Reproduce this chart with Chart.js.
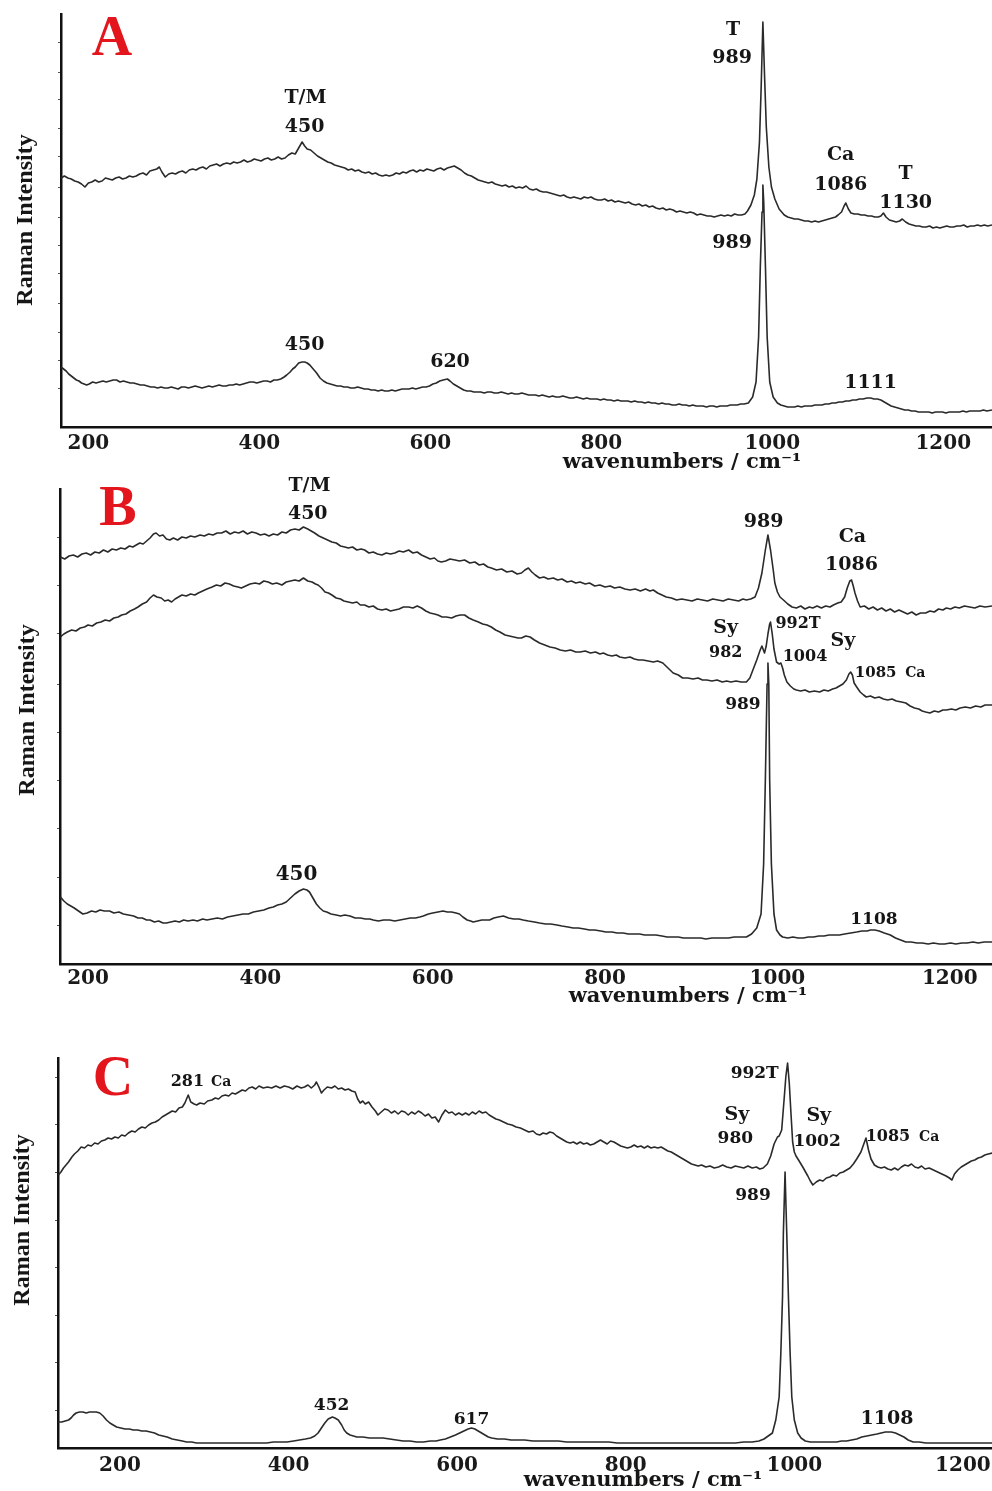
<!DOCTYPE html>
<html>
<head>
<meta charset="utf-8">
<title>Raman spectra</title>
<script src="https://cdn.jsdelivr.net/npm/chart.js@4.4.1/dist/chart.umd.min.js"></script>
<style>
    html, body { margin: 0; padding: 0; background: #fff; }
    #figure { position: relative; width: 992px; height: 1491px; overflow: hidden; background: #fff; }
    #figure canvas { position: absolute; left: 0; }
</style>
</head>
<body>
<div id="figure">
    <canvas id="panelA" width="992" height="476" style="top:0px"></canvas>
    <canvas id="panelB" width="992" height="534" style="top:476px"></canvas>
    <canvas id="panelC" width="992" height="481" style="top:1010px"></canvas>
</div>
<script>
// wavenumber (cm-1), intensity (a.u.) pairs for every spectrum

var wavenumberTicks = [200, 400, 600, 800, 1000, 1200];

var specATop = [[168,249],[172,251],[176,249],[180,248],[184,246],[188,245],[192,243],[196,240],[200,244],[204,245],[208,247],[212,245],[216,246],[220,249],[224,248],[228,247],[232,249],[236,250],[240,248],[244,249],[248,251],[252,250],[256,251],[260,253],[264,254],[268,252],[272,256],[276,257],[280,258],[283,260],[286,255],[290,250],[294,253],[298,254],[302,253],[306,255],[310,256],[314,254],[318,257],[322,258],[326,257],[330,259],[334,260],[338,258],[342,261],[346,262],[350,263],[354,261],[358,263],[362,264],[366,263],[370,265],[374,264],[378,265],[382,267],[386,265],[390,266],[394,268],[398,267],[402,266],[406,268],[410,269],[414,267],[418,268],[422,270],[426,268],[430,269],[434,272],[438,274],[442,273],[446,279],[450,285],[453,281],[456,278],[460,277],[464,274],[468,271],[472,269],[476,267],[480,265],[484,264],[488,262],[492,261],[496,260],[500,259],[504,257],[508,258],[512,256],[516,257],[520,255],[524,254],[528,255],[532,253],[536,254],[540,252],[544,251],[548,252],[552,251],[556,252],[560,254],[564,253],[568,255],[572,254],[576,256],[580,257],[584,255],[588,257],[592,256],[596,258],[600,257],[604,256],[608,258],[612,259],[616,257],[620,259],[624,260],[628,261],[632,259],[636,257],[640,254],[644,252],[648,251],[652,249],[656,247],[660,246],[664,245],[668,244],[672,245],[676,243],[680,242],[684,241],[688,242],[692,240],[696,241],[700,239],[704,240],[708,239],[712,241],[716,238],[720,237],[724,238],[728,236],[732,235],[736,235],[740,234],[744,233],[748,232],[752,231],[756,232],[760,230],[764,229],[768,230],[772,229],[776,228],[780,230],[784,229],[788,230],[792,228],[796,227],[800,227],[804,228],[808,226],[812,227],[816,225],[820,226],[824,225],[828,224],[832,225],[836,223],[840,222],[844,223],[848,221],[852,222],[856,220],[860,221],[864,219],[868,218],[872,219],[876,217],[880,218],[884,217],[888,215],[892,216],[896,215],[900,214],[904,215],[908,214],[912,212],[916,213],[920,212],[924,211],[928,211],[932,210],[936,211],[940,212],[944,211],[948,212],[952,211],[956,213],[960,212],[964,212],[968,213],[971,216],[975,222],[979,232],[982,248],[985,285],[987,340],[989,405],[991,350],[993,300],[996,260],[999,240],[1003,228],[1008,218],[1014,212],[1018,210],[1022,209],[1026,208],[1030,208],[1034,207],[1038,206],[1042,206],[1046,205],[1050,206],[1054,205],[1058,206],[1062,207],[1066,208],[1070,209],[1074,210],[1077,212],[1081,215],[1084,221],[1086,224],[1089,218],[1092,214],[1096,213],[1100,213],[1104,212],[1108,212],[1112,211],[1116,211],[1120,210],[1124,210],[1127,211],[1130,214],[1133,210],[1137,207],[1141,206],[1145,205],[1149,206],[1152,208],[1156,205],[1160,203],[1164,202],[1168,201],[1172,201],[1176,200],[1180,200],[1184,201],[1188,199],[1192,200],[1196,199],[1200,200],[1204,201],[1208,200],[1212,200],[1216,201],[1220,201],[1224,202],[1228,200],[1232,201],[1236,201],[1240,202],[1244,201],[1248,202],[1252,201],[1257,202]];

var specABottom = [[168,60],[171,58],[174,56],[177,53],[180,51],[183,49],[186,47],[189,46],[192,44],[195,43],[198,42],[201,43],[205,45],[209,44],[213,45],[217,46],[221,45],[225,46],[229,47],[233,47],[237,45],[241,46],[245,45],[249,44],[253,44],[257,43],[261,42],[265,42],[269,41],[273,40],[277,40],[281,39],[285,40],[289,39],[293,39],[297,40],[301,39],[305,38],[309,40],[313,40],[317,39],[321,40],[325,41],[329,40],[333,39],[337,40],[341,41],[345,40],[349,41],[353,42],[357,41],[361,41],[365,42],[369,42],[373,43],[377,42],[381,43],[385,44],[389,45],[393,45],[397,44],[401,45],[405,46],[409,46],[413,45],[417,47],[421,47],[425,48],[429,50],[432,52],[436,55],[439,58],[442,60],[446,64],[450,65],[453,65],[456,64],[459,62],[463,58],[467,54],[471,49],[475,46],[479,44],[483,43],[487,42],[491,41],[495,41],[499,40],[503,40],[507,39],[511,39],[515,40],[519,39],[523,38],[527,38],[531,37],[535,37],[539,36],[543,37],[547,36],[551,36],[555,37],[559,36],[563,37],[567,38],[571,38],[575,38],[579,39],[583,38],[587,39],[591,40],[595,40],[599,41],[603,43],[607,44],[611,46],[615,47],[620,48],[623,46],[627,43],[631,41],[635,39],[639,37],[643,36],[647,36],[651,35],[655,35],[659,35],[663,34],[667,35],[671,35],[675,34],[679,34],[683,35],[687,34],[691,33],[695,34],[699,33],[703,33],[707,34],[711,33],[715,32],[719,32],[723,32],[727,31],[731,32],[735,31],[739,30],[743,31],[747,30],[751,30],[755,31],[759,30],[763,29],[767,29],[771,30],[775,29],[779,28],[783,29],[787,28],[791,28],[795,28],[799,27],[803,28],[807,27],[811,27],[815,26],[819,27],[823,26],[827,26],[831,26],[835,25],[839,26],[843,25],[847,25],[851,24],[855,25],[859,24],[863,24],[867,23],[871,24],[875,23],[879,23],[883,22],[887,22],[891,23],[895,22],[899,22],[903,21],[907,22],[911,21],[915,21],[919,21],[923,20],[927,21],[931,21],[935,20],[939,21],[943,21],[947,21],[951,22],[955,22],[959,22],[963,23],[967,23],[972,24],[977,30],[981,45],[984,90],[986,160],[988,215],[989,242],[990,225],[992,160],[994,90],[997,45],[1001,30],[1006,24],[1010,22],[1014,21],[1018,20],[1022,20],[1026,20],[1030,21],[1034,20],[1038,21],[1042,21],[1046,21],[1050,22],[1054,22],[1058,22],[1062,23],[1066,23],[1070,24],[1074,24],[1078,25],[1082,25],[1086,26],[1090,26],[1094,27],[1098,27],[1102,28],[1106,28],[1111,29],[1115,29],[1119,28],[1123,28],[1127,27],[1131,25],[1135,23],[1139,21],[1143,20],[1147,19],[1151,18],[1155,17],[1159,17],[1163,16],[1167,16],[1171,15],[1175,15],[1179,15],[1183,15],[1187,14],[1191,15],[1195,15],[1199,15],[1203,14],[1207,15],[1211,15],[1215,15],[1219,15],[1223,16],[1227,15],[1231,16],[1235,16],[1239,16],[1243,16],[1247,17],[1251,16],[1257,17]];

var specBTop = [[168,407],[173,405],[178,408],[183,409],[188,407],[193,410],[198,411],[203,409],[208,412],[213,411],[218,414],[223,412],[228,415],[233,414],[238,416],[243,415],[248,418],[252,417],[256,419],[260,421],[264,420],[268,423],[272,426],[276,430],[279,431],[283,428],[287,429],[291,425],[295,424],[299,426],[304,424],[309,427],[314,426],[319,428],[324,427],[330,429],[335,428],[340,430],[345,429],[350,431],[355,431],[360,433],[365,430],[370,432],[375,431],[380,433],[385,430],[390,432],[395,431],[400,429],[405,430],[410,428],[415,430],[420,429],[425,432],[430,431],[435,434],[440,435],[445,434],[450,437],[455,435],[459,433],[463,431],[468,428],[473,426],[478,424],[483,422],[488,421],[493,418],[498,417],[502,416],[507,417],[512,414],[517,415],[521,414],[526,411],[531,412],[536,410],[541,409],[546,411],[551,410],[556,411],[561,413],[566,412],[572,414],[577,411],[582,412],[587,409],[592,407],[597,405],[602,406],[606,403],[610,402],[615,403],[620,405],[626,404],[631,403],[637,404],[643,401],[649,402],[654,399],[659,400],[664,397],[668,396],[674,394],[680,395],[686,392],[692,393],[698,390],[703,391],[707,394],[711,396],[715,392],[719,389],[724,386],[729,387],[734,385],[740,386],[745,384],[750,385],[756,382],[761,383],[766,381],[771,382],[777,380],[782,381],[788,378],[794,379],[800,377],[806,378],[811,376],[817,377],[823,375],[829,374],[835,375],[841,373],[847,375],[852,373],[856,374],[861,371],[866,369],[871,367],[877,366],[883,364],[889,365],[895,364],[901,363],[907,365],[913,364],[919,363],[925,365],[931,364],[937,363],[943,365],[949,364],[955,363],[960,365],[964,364],[969,365],[974,367],[978,376],[982,391],[986,414],[989,429],[992,414],[995,395],[997,381],[1000,372],[1003,367],[1007,364],[1012,360],[1017,357],[1022,356],[1027,358],[1032,355],[1037,357],[1041,356],[1046,358],[1051,356],[1056,358],[1061,357],[1065,359],[1070,361],[1074,362],[1078,367],[1081,376],[1084,383],[1086,384],[1088,378],[1090,371],[1093,363],[1096,357],[1101,358],[1106,355],[1111,357],[1116,354],[1121,356],[1126,353],[1131,355],[1136,352],[1141,354],[1146,352],[1151,350],[1156,352],[1161,349],[1166,351],[1172,351],[1177,353],[1182,352],[1187,355],[1192,354],[1196,356],[1201,355],[1206,357],[1211,356],[1217,358],[1223,357],[1229,356],[1235,358],[1241,357],[1249,358]];

var specBMiddle = [[168,327],[172,330],[176,332],[181,334],[186,333],[191,336],[196,337],[200,339],[205,338],[210,341],[215,342],[220,344],[225,343],[230,346],[235,347],[239,349],[244,350],[249,353],[254,355],[258,357],[263,360],[268,362],[272,366],[276,369],[280,367],[285,366],[289,363],[293,364],[297,362],[301,365],[305,367],[309,369],[314,368],[319,370],[324,369],[328,371],[333,373],[338,375],[344,377],[349,379],[354,378],[359,381],[364,380],[369,378],[374,377],[378,376],[383,378],[388,380],[394,381],[399,380],[404,383],[409,382],[414,380],[419,381],[425,379],[430,382],[435,383],[440,384],[445,383],[450,386],[455,383],[460,382],[464,380],[467,379],[471,376],[475,372],[479,371],[483,369],[488,366],[493,365],[497,363],[502,362],[507,361],[512,362],[516,359],[521,359],[526,357],[531,358],[536,355],[541,354],[546,355],[551,353],[556,354],[561,355],[566,357],[572,357],[577,356],[582,358],[587,356],[592,353],[597,351],[602,350],[606,349],[611,347],[616,347],[622,346],[627,348],[632,349],[637,349],[642,346],[647,344],[653,342],[658,340],[663,339],[668,337],[673,334],[678,332],[684,329],[689,328],[694,327],[699,326],[703,326],[708,328],[713,327],[718,324],[724,321],[730,319],[736,317],[742,316],[748,314],[754,313],[760,314],[766,312],[771,312],[777,313],[783,311],[789,312],[794,310],[798,311],[803,309],[808,308],[813,309],[817,307],[823,306],[829,307],[834,305],[839,304],[844,304],[850,303],[856,302],[861,303],[867,301],[873,296],[879,291],[885,289],[890,286],[896,286],[902,285],[908,286],[913,284],[918,284],[924,283],[930,284],[936,282],[941,283],[946,282],[952,283],[958,282],[964,282],[968,286],[972,295],[976,304],[980,314],[982,318],[985,311],[987,318],[989,330],[991,340],[992,342],[994,330],[996,315],[999,302],[1002,300],[1004,301],[1006,296],[1008,289],[1011,282],[1015,278],[1019,275],[1022,274],[1027,273],[1032,274],[1037,272],[1043,273],[1049,272],[1054,274],[1059,273],[1064,275],[1068,276],[1072,278],[1076,280],[1080,284],[1083,290],[1085,292],[1087,289],[1089,281],[1092,277],[1096,272],[1100,269],[1103,267],[1108,268],[1113,266],[1118,267],[1123,265],[1128,264],[1133,265],[1138,263],[1144,262],[1149,261],[1154,258],[1159,256],[1164,255],[1168,253],[1172,252],[1177,251],[1182,253],[1187,252],[1192,254],[1196,254],[1202,255],[1207,254],[1212,256],[1218,257],[1224,256],[1230,258],[1236,257],[1241,259],[1249,259]];

var specBBottom = [[168,67],[172,63],[176,60],[180,58],[184,56],[189,53],[194,50],[199,51],[204,53],[209,52],[214,54],[219,53],[225,53],[230,51],[236,52],[241,50],[247,49],[253,48],[258,46],[263,46],[268,44],[272,44],[277,42],[282,43],[287,41],[291,41],[296,42],[301,43],[306,42],[311,44],[316,43],[322,44],[327,43],[333,45],[338,44],[344,45],[350,46],[356,45],[362,47],[368,48],[374,49],[380,50],[386,50],[392,52],[398,53],[404,54],[410,56],[415,57],[420,59],[425,60],[430,62],[435,66],[440,70],[445,73],[450,75],[454,74],[457,72],[461,66],[465,60],[469,56],[473,53],[477,52],[482,50],[488,49],[493,48],[498,49],[504,48],[510,46],[516,46],[522,45],[527,45],[531,44],[537,43],[543,44],[550,44],[556,43],[562,44],[568,45],[574,46],[580,46],[585,47],[589,48],[595,50],[600,51],[606,52],[612,53],[617,52],[622,52],[627,51],[631,50],[635,47],[640,44],[644,43],[647,42],[652,43],[657,44],[662,44],[666,44],[671,46],[676,47],[682,48],[688,46],[694,45],[700,45],[705,44],[711,43],[718,42],[724,41],[731,40],[737,40],[744,39],[750,38],[757,37],[763,36],[769,36],[776,35],[782,34],[788,34],[795,33],[801,32],[808,32],[814,31],[821,31],[827,30],[834,30],[840,30],[846,29],[853,29],[859,29],[866,28],[872,27],[878,27],[885,27],[891,26],[898,26],[904,26],[911,26],[917,25],[924,26],[930,26],[937,26],[943,26],[950,27],[956,27],[964,27],[970,30],[976,36],[981,50],[984,100],[986,184],[988,280],[989,301],[990,280],[991,184],[993,100],[996,50],[999,34],[1003,29],[1006,27],[1012,26],[1018,27],[1024,26],[1030,26],[1036,27],[1042,27],[1048,28],[1054,28],[1060,29],[1066,29],[1072,29],[1078,30],[1085,31],[1092,32],[1098,33],[1104,33],[1108,34],[1113,34],[1118,33],[1124,31],[1131,29],[1137,26],[1143,24],[1149,22],[1155,22],[1162,21],[1168,21],[1175,20],[1181,21],[1188,20],[1194,20],[1201,21],[1207,20],[1214,21],[1220,21],[1227,22],[1233,21],[1240,22],[1249,22]];

var specCTop = [[127,273],[130,276],[133,280],[136,283],[139,286],[143,291],[146,294],[150,297],[154,301],[158,300],[162,303],[166,302],[170,305],[174,304],[178,307],[182,308],[186,310],[190,309],[194,311],[198,310],[202,313],[206,312],[210,315],[214,317],[218,316],[222,319],[226,321],[230,320],[234,323],[238,325],[242,326],[246,328],[250,331],[254,333],[258,335],[262,337],[266,336],[270,340],[274,341],[277,345],[281,353],[284,346],[288,344],[291,343],[295,345],[300,344],[304,347],[309,348],[313,350],[317,349],[321,352],[325,353],[329,352],[333,355],[337,354],[341,356],[345,358],[349,357],[353,360],[357,361],[361,359],[365,362],[370,360],[375,361],[380,360],[385,362],[390,360],[395,362],[400,361],[405,359],[410,362],[415,360],[419,361],[423,363],[427,360],[431,363],[433,366],[436,361],[439,355],[442,358],[446,361],[451,360],[455,362],[459,359],[463,360],[467,358],[471,359],[475,357],[479,356],[482,349],[485,345],[488,347],[491,344],[495,346],[499,341],[503,337],[506,333],[510,336],[514,339],[518,338],[522,335],[526,337],[530,334],[534,337],[538,336],[542,333],[546,336],[550,334],[554,337],[558,335],[562,332],[566,334],[570,330],[574,331],[578,326],[582,333],[586,338],[590,335],[594,336],[598,333],[602,335],[606,333],[610,335],[614,333],[618,336],[622,334],[626,337],[630,335],[634,336],[638,333],[642,331],[646,329],[650,328],[655,326],[660,324],[665,323],[670,321],[675,320],[680,318],[685,316],[690,317],[694,314],[698,313],[702,315],[706,314],[710,316],[714,315],[718,312],[722,310],[726,308],[730,306],[734,305],[738,306],[742,304],[746,306],[750,304],[754,305],[758,303],[762,304],[766,306],[770,308],[774,306],[778,304],[782,307],[786,306],[790,304],[794,302],[798,301],[802,300],[806,301],[810,303],[814,301],[818,302],[822,300],[826,302],[830,300],[834,301],[838,300],[842,301],[846,299],[850,297],[854,296],[858,294],[862,292],[866,290],[870,288],[874,286],[878,284],[882,283],[886,282],[890,283],[895,281],[900,282],[905,280],[910,281],[915,283],[920,281],[925,280],[930,282],[935,281],[940,280],[945,282],[950,280],[955,281],[959,279],[963,280],[968,284],[972,292],[976,304],[980,311],[982,312],[985,318],[988,350],[990,372],[992,385],[994,365],[996,335],[998,306],[1000,296],[1002,292],[1005,288],[1010,281],[1016,272],[1019,267],[1022,263],[1026,266],[1030,268],[1034,267],[1038,270],[1042,271],[1046,273],[1050,272],[1054,275],[1058,276],[1062,278],[1066,280],[1070,284],[1074,289],[1079,296],[1082,303],[1085,310],[1088,298],[1091,289],[1095,283],[1099,281],[1103,280],[1107,281],[1111,279],[1115,278],[1119,280],[1123,278],[1127,281],[1131,283],[1135,282],[1139,284],[1143,281],[1147,280],[1151,282],[1155,279],[1160,280],[1165,278],[1170,276],[1175,274],[1180,272],[1184,270],[1187,268],[1190,274],[1194,278],[1198,281],[1202,283],[1206,285],[1210,287],[1214,288],[1218,290],[1222,291],[1226,293],[1230,294],[1235,295]];

var specCBottom = [[127,26],[131,26],[135,27],[139,28],[142,30],[145,33],[148,35],[152,36],[156,36],[160,35],[164,36],[168,36],[172,36],[176,35],[180,32],[184,28],[188,25],[192,23],[196,21],[201,20],[206,19],[211,19],[216,18],[221,18],[226,17],[231,17],[236,16],[241,15],[246,13],[251,12],[256,11],[262,9],[268,8],[274,7],[279,6],[285,6],[291,5],[297,5],[303,5],[310,5],[318,5],[326,5],[334,5],[342,5],[350,5],[358,5],[366,5],[374,5],[382,6],[390,6],[398,6],[406,7],[413,8],[420,9],[426,10],[431,12],[435,15],[439,20],[443,25],[447,29],[452,31],[455,30],[459,28],[463,23],[466,18],[469,15],[473,13],[477,12],[481,11],[488,11],[496,10],[504,10],[512,10],[520,9],[528,8],[536,7],[544,7],[552,6],[560,6],[568,7],[575,7],[580,8],[586,9],[592,11],[598,13],[603,15],[608,17],[613,19],[617,20],[621,19],[625,17],[629,15],[633,13],[637,11],[641,10],[648,9],[656,9],[664,8],[672,8],[680,8],[690,7],[700,7],[710,7],[720,7],[730,6],[740,6],[750,6],[760,6],[770,6],[780,6],[790,5],[800,5],[810,5],[820,5],[830,5],[840,5],[850,5],[860,5],[870,5],[880,5],[890,5],[900,5],[910,5],[920,5],[930,5],[940,6],[950,6],[958,7],[964,9],[969,12],[974,15],[978,28],[982,51],[984,95],[986,151],[987,215],[989,276],[991,215],[993,151],[995,95],[997,51],[1000,28],[1004,15],[1008,10],[1013,7],[1019,6],[1026,6],[1034,6],[1042,6],[1050,6],[1056,7],[1062,7],[1068,8],[1074,9],[1080,11],[1086,12],[1092,13],[1098,14],[1103,15],[1108,16],[1115,16],[1120,15],[1125,13],[1130,11],[1135,8],[1141,6],[1148,6],[1156,5],[1164,5],[1172,5],[1180,5],[1190,5],[1200,5],[1210,5],[1220,5],[1235,5]];

// unlabelled tick marks along each intensity axis
var intensityTicksA = [39, 67, 95, 124, 154, 182, 210, 240, 270, 299, 327, 355, 384];
var intensityTicksB = [39, 87, 136, 184, 232, 280, 330, 379, 427];
var intensityTicksC = [38, 86, 133, 181, 228, 276, 323, 371];

// band assignments: text, wavenumber and intensity where the text sits
var bandLabelsA = [
    { text: 'T/M', wn: 454, at: 329, size: 19 },
    { text: '450', wn: 453, at: 300, size: 19 },
    { text: 'T', wn: 954, at: 397, size: 19 },
    { text: '989', wn: 953, at: 369, size: 19 },
    { text: 'Ca', wn: 1080, at: 272, size: 19 },
    { text: '1086', wn: 1080, at: 242, size: 19 },
    { text: 'T', wn: 1156, at: 253, size: 19 },
    { text: '1130', wn: 1156, at: 224, size: 19 },
    { text: '989', wn: 953, at: 184, size: 19 },
    { text: '450', wn: 453, at: 82, size: 19 },
    { text: '620', wn: 623, at: 65, size: 19 },
    { text: '1111', wn: 1115, at: 44, size: 19 }
];

var bandLabelsB = [
    { text: 'T/M', wn: 457, at: 478, size: 19 },
    { text: '450', wn: 455, at: 450, size: 19 },
    { text: '989', wn: 984, at: 442, size: 19 },
    { text: 'Ca', wn: 1087, at: 427, size: 19 },
    { text: '1086', wn: 1086, at: 399, size: 19 },
    { text: 'Sy', wn: 940, at: 336, size: 19 },
    { text: '982', wn: 940, at: 311, size: 16 },
    { text: '992T', wn: 1024, at: 340, size: 16 },
    { text: 'Sy', wn: 1076, at: 323, size: 19 },
    { text: '1004', wn: 1032, at: 307, size: 16 },
    { text: '1085', wn: 1114, at: 291, size: 15 },
    { text: 'Ca', wn: 1160, at: 291, size: 14 },
    { text: '989', wn: 960, at: 259, size: 17 },
    { text: '450', wn: 442, at: 89, size: 20 },
    { text: '1108', wn: 1112, at: 44, size: 17 }
];

var bandLabelsC = [
    { text: '281', wn: 280, at: 366, size: 16 },
    { text: 'Ca', wn: 320, at: 366, size: 14 },
    { text: '992T', wn: 953, at: 374, size: 17 },
    { text: 'Sy', wn: 932, at: 333, size: 19 },
    { text: '980', wn: 930, at: 309, size: 17 },
    { text: 'Sy', wn: 1029, at: 332, size: 19 },
    { text: '1002', wn: 1027, at: 306, size: 17 },
    { text: '1085', wn: 1111, at: 311, size: 16 },
    { text: 'Ca', wn: 1160, at: 311, size: 14 },
    { text: '989', wn: 951, at: 252, size: 17 },
    { text: '452', wn: 451, at: 42, size: 17 },
    { text: '617', wn: 617, at: 28, size: 17 },
    { text: '1108', wn: 1110, at: 29, size: 19 }
];

var RamanFigure = {

    textPlugin : {
        id: 'spectrumText',
        afterDraw: function(chart, args, opts) {
            var ctx = chart.ctx;
            var xScale = chart.scales.x;
            var yScale = chart.scales.y;

            ctx.save();
            ctx.fillStyle = '#161616';
            ctx.textAlign = 'center';
            ctx.textBaseline = 'middle';
            opts.labels.forEach(function(label) {
                ctx.font = 'bold ' + label.size + 'px "DejaVu Serif"';
                ctx.fillText(label.text, xScale.getPixelForValue(label.wn), yScale.getPixelForValue(label.at));
            });

            // axis titles
            ctx.font = 'bold 21px "DejaVu Serif"';
            ctx.fillText('wavenumbers / cm\u207B\u00B9', opts.xTitle[0], opts.xTitle[1]);

            ctx.save();
            ctx.translate(opts.yTitle[0], opts.yTitle[1]);
            ctx.rotate(-Math.PI / 2);
            ctx.font = 'bold 24px "Liberation Serif"';
            ctx.fillText('Raman Intensity', 0, 0);
            ctx.restore();

            // panel letter
            ctx.fillStyle = '#e3161d';
            ctx.font = 'bold 56px "Liberation Serif"';
            ctx.textBaseline = 'alphabetic';
            ctx.fillText(opts.letter[0], opts.letter[1], opts.letter[2]);
            ctx.restore();
        }
    },

    drawPanel : function(p) {

        var datasets = p.spectra.map(function(spec) {
            return {
                data: spec.map(function(pt) { return { x: pt[0], y: pt[1] }; }),
                borderColor: '#2a2a2a',
                borderWidth: 1.6,
                borderJoinStyle: 'round',
                pointRadius: 0,
                tension: 0,
                fill: false
            };
        });

        var config = {
            type: 'line',
            plugins: [RamanFigure.textPlugin],
            data: {
                datasets: datasets
            },
            options: {
                responsive: false,
                animation: false,
                devicePixelRatio: 1,
                events: [],
                parsing: false,
                layout: {
                    padding: { top: p.top, left: 0, right: 0, bottom: 0 }
                },
                plugins: {
                    legend: { display: false },
                    tooltip: { enabled: false },
                    spectrumText: {
                        labels: p.labels,
                        letter: p.letter,
                        xTitle: p.xTitle,
                        yTitle: p.yTitle
                    }
                },
                scales: {
                    x: {
                        type: 'linear',
                        min: p.xMin,
                        max: p.xMax,
                        afterFit: function(scale) {
                            scale.height = p.axisBand;
                            // axis runs to the canvas edge, no room kept for end labels
                            scale.paddingLeft = 0;
                            scale.paddingRight = 0;
                        },
                        afterBuildTicks: function(scale) {
                            scale.ticks = wavenumberTicks.map(function(v) { return { value: v }; });
                        },
                        grid: { display: false, drawTicks: false },
                        border: { display: true, color: '#111111', width: 2.5 },
                        ticks: {
                            padding: p.labelPad,
                            color: '#1a1a1a',
                            autoSkip: false,
                            maxRotation: 0,
                            font: { family: 'DejaVu Serif', size: 20, weight: 'bold' },
                            callback: function(value) {
                                return String(value);
                            }
                        }
                    },
                    y: {
                        type: 'linear',
                        min: 0,
                        max: p.yMax,
                        afterFit: function(scale) {
                            scale.width = p.axisLeft;
                        },
                        afterBuildTicks: function(scale) {
                            scale.ticks = p.tickMarks.map(function(v) { return { value: v }; });
                        },
                        grid: { drawOnChartArea: false, drawTicks: true, tickLength: 3, color: '#555555', lineWidth: 1 },
                        border: { display: true, color: '#111111', width: 2.5 },
                        ticks: { display: false }
                    }
                }
            }
        };

        new Chart(document.getElementById(p.canvas), config);
    }
};

RamanFigure.drawPanel({
    canvas: 'panelA', xMin: 168, xMax: 1257, yMax: 413, top: 14, axisLeft: 61, axisBand: 49, labelPad: 5,
    tickMarks: intensityTicksA, spectra: [specATop, specABottom], labels: bandLabelsA,
    letter: ['A', 112, 55], xTitle: [682, 463], yTitle: [26, 220]
});

RamanFigure.drawPanel({
    canvas: 'panelB', xMin: 167.5, xMax: 1249, yMax: 475, top: 13, axisLeft: 60, axisBand: 46, labelPad: 3,
    tickMarks: intensityTicksB, spectra: [specBTop, specBMiddle, specBBottom], labels: bandLabelsB,
    letter: ['B', 118, 49], xTitle: [688, 521], yTitle: [28, 234]
});

RamanFigure.drawPanel({
    canvas: 'panelC', xMin: 126.5, xMax: 1234.5, yMax: 390, top: 48, axisLeft: 58, axisBand: 43, labelPad: 6,
    tickMarks: intensityTicksC, spectra: [specCTop, specCBottom], labels: bandLabelsC,
    letter: ['C', 113, 85], xTitle: [643, 471], yTitle: [23, 210]
});
</script>
</body>
</html>
